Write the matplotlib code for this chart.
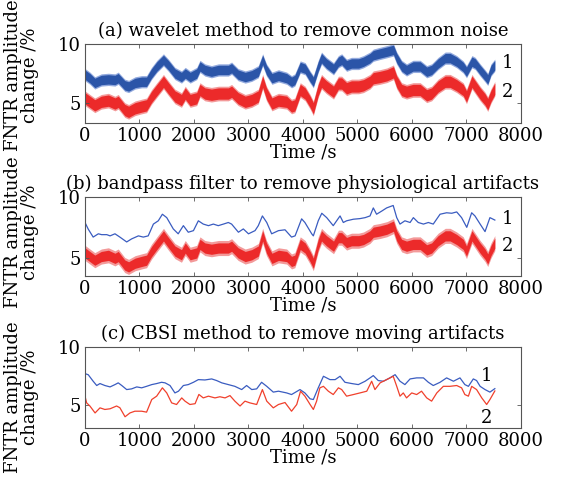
import matplotlib
matplotlib.use("Agg")
import matplotlib.pyplot as plt
import numpy as np

plt.rcParams['font.family'] = ['DejaVu Serif']
plt.rcParams['font.size'] = 13

# ---- panel (a) and red curve of (b): noisy signals ----
t_a = [0, 90, 180, 300, 430, 550, 610, 730, 800, 920,
       1040, 1130, 1220, 1320, 1440, 1530, 1650, 1770, 1840, 1930,
       2050, 2110, 2200, 2320, 2450, 2630, 2690, 2810, 2940, 3060,
       3180, 3260, 3330, 3430, 3550, 3700, 3790, 3850, 3950, 4040,
       4130, 4190, 4280, 4340, 4430, 4560, 4650, 4710, 4800, 4890,
       5020, 5110, 5230, 5290, 5410, 5540, 5660, 5720, 5810, 5900,
       6020, 6150, 6270, 6360, 6480, 6610, 6700, 6820, 6940, 7000,
       7100, 7160, 7250, 7340, 7390, 7450, 7520]
blue_a = [7.4, 7.1, 6.7, 6.95, 7.0, 6.95, 7.1, 6.5, 6.4, 6.7,
          6.8, 6.8, 7.5, 8.1, 8.65, 8.2, 7.5, 7.2, 7.5, 7.2,
          7.5, 8.1, 7.8, 7.65, 7.8, 7.8, 7.95, 7.4, 7.2, 7.35,
          7.65, 8.65, 7.8, 7.1, 7.3, 7.1, 6.8, 6.95, 8.05, 7.9,
          7.2, 6.8, 8.1, 8.8, 8.35, 7.9, 8.5, 8.65, 8.2, 8.35,
          8.35, 8.5, 8.8, 9.05, 9.2, 9.35, 9.5, 8.8, 8.1, 7.8,
          8.1, 8.1, 7.65, 7.8, 8.35, 8.8, 8.8, 8.5, 8.05, 7.65,
          8.5, 8.35, 7.8, 7.3, 7.0, 7.8, 8.2]
red_a = [5.4, 5.1, 4.8, 5.1, 5.2, 4.95, 5.1, 4.4, 4.25, 4.55,
         4.7, 4.8, 5.5, 6.1, 6.8, 6.25, 5.55, 5.25, 5.8, 5.25,
         5.4, 6.1, 5.8, 5.7, 5.8, 5.8, 5.95, 5.4, 5.1, 5.25,
         5.55, 6.8, 5.8, 4.95, 5.2, 5.1, 4.7, 4.8, 6.1, 5.8,
         5.1, 4.55, 6.1, 6.8, 6.4, 5.95, 6.65, 6.65, 6.25, 6.4,
         6.4, 6.5, 6.8, 7.1, 7.2, 7.35, 7.6, 6.8, 6.1, 5.95,
         6.1, 6.1, 5.65, 5.8, 6.4, 6.8, 6.8, 6.5, 6.1, 5.55,
         6.8, 6.4, 5.8, 5.3, 4.9, 5.6, 6.2]

# ---- panel (b): bandpass filtered blue curve ----
t_b = [0, 60, 150, 245, 305, 400, 460, 550, 640, 765,
       855, 980, 1070, 1160, 1255, 1345, 1420, 1500, 1620, 1710,
       1805, 1895, 1990, 2080, 2170, 2265, 2355, 2445, 2540, 2630,
       2690, 2815, 2905, 3000, 3120, 3180, 3255, 3335, 3425, 3550,
       3670, 3790, 3855, 3975, 4035, 4160, 4190, 4280, 4345, 4435,
       4555, 4680, 4740, 4800, 4925, 5045, 5140, 5230, 5290, 5350,
       5445, 5535, 5655, 5720, 5780, 5870, 5965, 6025, 6115, 6210,
       6300, 6390, 6515, 6635, 6730, 6820, 6910, 7005, 7095, 7155,
       7250, 7340, 7430, 7520]
blue_b = [7.9, 7.35, 6.7, 6.97, 6.9, 6.9, 6.8, 6.97, 6.7, 6.3,
          6.55, 6.8, 6.7, 6.8, 7.77, 8.04, 8.58, 8.3, 7.37, 6.97,
          7.64, 7.1, 7.23, 8.04, 7.77, 7.64, 7.77, 7.64, 7.77, 7.9,
          7.77, 7.1, 7.37, 6.97, 7.23, 7.64, 8.44, 7.9, 6.97, 7.23,
          7.3, 6.7, 6.8, 8.2, 7.9, 6.97, 6.8, 8.04, 8.66, 8.3,
          7.64, 8.44, 7.9, 8.04, 8.17, 8.22, 8.3, 8.44, 9.1, 8.58,
          8.84, 9.1, 9.3, 8.3, 7.77, 8.04, 7.9, 8.3, 7.9, 7.77,
          7.9, 7.77, 8.58, 8.7, 8.66, 8.77, 8.3, 7.5, 8.7, 8.44,
          7.77, 7.15, 8.3, 8.1]

# ---- panel (c): CBSI corrected curves ----
t_c1 = [0, 60, 150, 215, 275, 365, 460, 550, 610, 675,
        765, 855, 950, 1040, 1130, 1225, 1315, 1405, 1470, 1560,
        1650, 1715, 1805, 1895, 1990, 2080, 2200, 2325, 2415, 2510,
        2630, 2750, 2875, 2965, 3060, 3150, 3240, 3335, 3455, 3550,
        3700, 3790, 3945, 4035, 4130, 4190, 4280, 4375, 4495, 4590,
        4680, 4770, 4895, 5015, 5140, 5230, 5290, 5380, 5475, 5595,
        5690, 5780, 5870, 5965, 6085, 6210, 6300, 6390, 6515, 6635,
        6760, 6880, 6970, 7035, 7125, 7185, 7250, 7340, 7430, 7520]
blue_c = [7.7, 7.6, 7.04, 6.67, 6.84, 6.67, 6.55, 6.75, 6.9, 6.67,
          6.32, 6.38, 6.55, 6.47, 6.6, 6.75, 6.84, 6.95, 6.9, 6.67,
          6.03, 6.18, 6.67, 6.75, 6.95, 7.18, 7.15, 7.24, 7.1, 6.9,
          6.75, 6.6, 6.32, 6.67, 6.32, 6.38, 6.95, 6.6, 6.1, 6.18,
          6.03, 5.89, 6.32, 6.03, 5.52, 5.46, 6.47, 7.47, 7.18, 7.18,
          7.47, 6.95, 6.84, 6.75, 7.04, 7.33, 7.53, 7.1, 7.04, 7.33,
          7.61, 7.04, 6.75, 7.24, 7.33, 7.33, 6.95, 6.67, 6.95, 7.33,
          7.04, 7.33, 6.75, 6.6, 7.24, 7.1, 6.6, 6.32, 6.1, 6.4]
t_c2 = [0, 30, 90, 185, 275, 365, 460, 580, 640, 735,
        825, 915, 1040, 1130, 1225, 1315, 1420, 1500, 1590, 1680,
        1775, 1835, 1925, 2020, 2090, 2170, 2265, 2385, 2475, 2570,
        2660, 2750, 2845, 2935, 3025, 3150, 3255, 3335, 3455, 3550,
        3670, 3790, 3885, 3955, 4035, 4130, 4190, 4250, 4310, 4375,
        4465, 4555, 4650, 4710, 4800, 4925, 5045, 5170, 5260, 5320,
        5415, 5535, 5655, 5720, 5780, 5840, 5900, 5995, 6085, 6175,
        6270, 6360, 6455, 6575, 6695, 6820, 6910, 6970, 7035, 7095,
        7185, 7280, 7370, 7430, 7520]
red_c = [5.75, 5.17, 4.9, 4.3, 4.74, 4.6, 4.66, 4.9, 4.75, 3.97,
         4.3, 4.45, 4.45, 4.37, 5.46, 5.75, 6.47, 6.03, 5.17, 5.03,
         5.6, 5.32, 5.03, 5.1, 5.9, 5.6, 5.75, 5.6, 5.7, 5.6,
         5.8, 5.32, 4.9, 5.32, 5.17, 5.03, 6.32, 5.32, 4.74, 5.03,
         5.2, 4.45, 5.03, 6.18, 5.75, 5.03, 4.6, 5.32, 6.47, 6.6,
         6.18, 5.89, 6.47, 6.32, 5.75, 5.89, 6.03, 6.18, 7.04, 6.32,
         6.9, 7.18, 7.47, 6.6, 5.75, 6.03, 5.6, 6.03, 5.89, 6.18,
         5.6, 5.32, 6.03, 6.6, 6.6, 6.67, 6.47, 5.89, 5.75, 6.6,
         6.32, 5.6, 5.03, 5.46, 6.2]

titles = ['(a) wavelet method to remove common noise',
          '(b) bandpass filter to remove physiological artifacts',
          '(c) CBSI method to remove moving artifacts']
xticks = [0, 1000, 2000, 3000, 4000, 5000, 6000, 7000, 8000]
yticks = [5, 10]

BLUE, BLUE_L = '#2b55a8', '#93aade'
RED, RED_L = '#ec2a2a', '#f39a9a'
BLUE_T, RED_T = '#3a5cc0', '#f0402c'


def band(ax, t, v, half_dark, half_light, dark, light):
    # noisy trace shown as a vertical band around the read-off centre line
    v = np.asarray(v)
    ax.fill_between(t, v - half_light, v + half_light, color=light, lw=0)
    ax.fill_between(t, v - half_dark, v + half_dark, color=dark, lw=0)


fig = plt.figure(figsize=(5.61, 4.83), dpi=100)
W = 0.7772
axa = fig.add_axes([0.1515, 0.7453, W, 0.1636])
axb = fig.add_axes([0.1515, 0.4286, W, 0.1636])
axc = fig.add_axes([0.1515, 0.1139, W, 0.1677])

band(axa, t_a, blue_a, 0.40, 0.52, BLUE, BLUE_L)
band(axa, t_a, red_a, 0.48, 0.62, RED, RED_L)
axa.set_ylim(3.3, 10)

axb.plot(t_b, blue_b, color=BLUE_T, lw=0.9)
band(axb, t_a, red_a, 0.42, 0.62, RED, RED_L)
axb.set_ylim(3.5, 10)

axc.plot(t_c1, blue_c, color=BLUE_T, lw=0.9)
axc.plot(t_c2, red_c, color=RED_T, lw=0.9)
axc.set_ylim(3.0, 10)

lab_pos = [((7650, 8.36), (7650, 5.96)),
           ((7650, 8.15), (7650, 5.97)),
           ((7270, 7.47), (7270, 3.88))]
ylab_y = [0.6, 0.55, 0.38]

for ax, title, (p1, p2), ly in zip([axa, axb, axc], titles, lab_pos, ylab_y):
    ax.set_xlim(0, 8000)
    ax.set_xticks(xticks)
    ax.set_yticks(yticks)
    ax.tick_params(direction='in', top=True, right=True, length=3,
                   width=0.6, color='#555555', pad=3, labelsize=13)
    for s in ax.spines.values():
        s.set_color('#555555')
        s.set_linewidth(0.8)
    ax.set_title(title, fontsize=13, pad=6)
    ax.set_xlabel('Time /s', fontsize=13, labelpad=-1)
    ax.set_ylabel('FNTR amplitude\nchange /%', fontsize=13,
                  linespacing=0.95)
    ax.yaxis.set_label_coords(-0.105, ly)
    ax.text(p1[0], p1[1], '1', fontsize=13, va='center', ha='left',
            clip_on=False)
    ax.text(p2[0], p2[1], '2', fontsize=13, va='center', ha='left',
            clip_on=False)

fig.savefig('out.png', dpi=100)
